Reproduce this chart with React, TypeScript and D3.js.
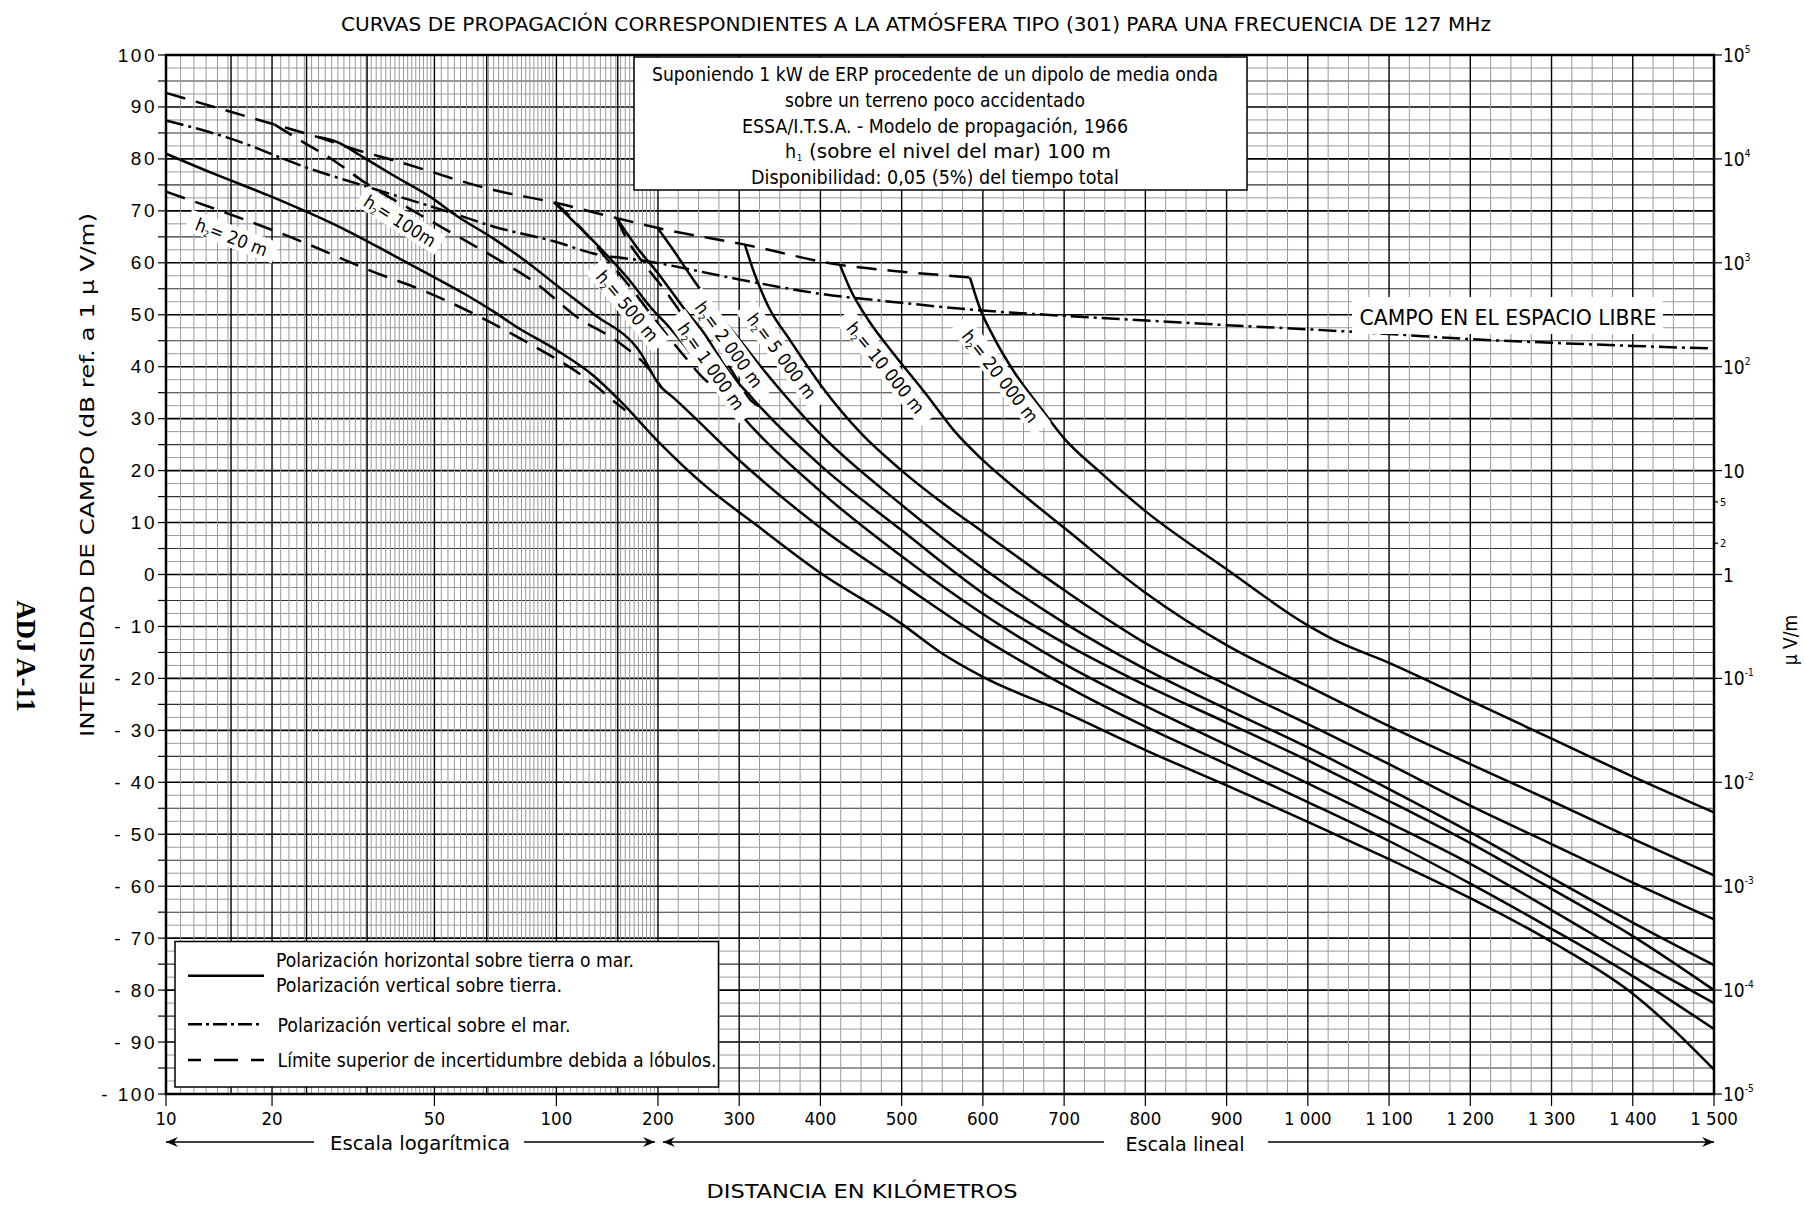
import React from 'react';
import * as d3 from 'd3';

type P = [number, number];

const W = 1805, H = 1207;
const PLOT_LEFT = 166, PLOT_RIGHT = 1714, PLOT_TOP = 55, PLOT_BOTTOM = 1094;

// x-axis: logarithmic 10-200 km, linear 200-1500 km
const logLabelsKm = [10, 20, 50, 100, 200];
const logLabelFrac = [0, 0.0685, 0.1734, 0.2522, 0.3178]; // fraction of plot width at each log label
const linLabelsKm = [300, 400, 500, 600, 700, 800, 900, 1000, 1100, 1200, 1300, 1400, 1500];
const yTickValues = d3.range(-100, 101, 10);

// right axis (µV/m) : value in dB, label
const uvTicks: { db: number; base: string; exp?: string; small?: boolean }[] = [
  { db: 100, base: '10', exp: '5' },
  { db: 80, base: '10', exp: '4' },
  { db: 60, base: '10', exp: '3' },
  { db: 40, base: '10', exp: '2' },
  { db: 20, base: '10' },
  { db: 13.98, base: '5', small: true },
  { db: 6.02, base: '2', small: true },
  { db: 0, base: '1' },
  { db: -20, base: '10', exp: '-1' },
  { db: -40, base: '10', exp: '-2' },
  { db: -60, base: '10', exp: '-3' },
  { db: -80, base: '10', exp: '-4' },
  { db: -100, base: '10', exp: '-5' },
];

// ---- curves [km, dB] ----
const upperEnvelope: P[] = [[10, 92.7], [20.3, 86.6], [25.9, 84.2], [32, 81.8], [39.5, 79.8], [70, 74], [100, 71.5], [151, 68.6], [200, 66.7], [307, 63.5], [424, 59.6], [500, 58.3], [584, 57.2]];
const freeSpace: P[] = [[10, 87.4], [14.8, 84.2], [25.2, 77.9], [34, 74.7], [55.6, 69.5], [69.8, 67], [100, 64], [128.6, 61.8], [186, 60.3], [300, 56.8], [397, 54.1], [500, 52.3], [600, 50.8], [700, 49.8], [800, 48.9], [900, 48], [1000, 47.2], [1100, 46.3], [1200, 45.3], [1300, 44.6], [1400, 44], [1500, 43.5]];

const h20: P[] = [[10, 81], [13.6, 77.2], [20, 72.7], [30, 66.5], [40, 61.3], [50, 57.2], [60, 53.8], [70, 50.6], [80, 47.6], [100, 43.2], [128.6, 38.3], [154, 33.5], [204, 25], [258, 17.1], [318, 9.9], [400, 0.3], [500, -9.5], [548, -15], [600, -19.7], [700, -26.5], [800, -33.8], [900, -40.6], [1000, -47.6], [1100, -54.8], [1200, -62.3], [1300, -70.7], [1400, -80.7], [1500, -95.3]];
const h100: P[] = [[25.9, 84.2], [29.2, 83.1], [32.7, 80.8], [39.5, 76.9], [49.5, 72.4], [55.6, 69.5], [69.8, 64.7], [84.4, 60.2], [100, 55.7], [128.6, 50.2], [177, 42.8], [202, 36.4], [220, 33.9], [300, 22], [400, 9], [500, -1.8], [600, -12.3], [700, -21.3], [800, -29.3], [900, -36.5], [1000, -43.8], [1100, -51.3], [1200, -59.5], [1300, -68.2], [1400, -77.3], [1500, -87.5]];
const h500: P[] = [[98.8, 71.6], [114, 67.6], [136.9, 62.4], [164.4, 56.7], [189.9, 51.5], [217.4, 47], [243.8, 41.9], [274.6, 36.1], [301, 31], [400, 16], [500, 3.5], [600, -7.6], [700, -17.2], [800, -25.3], [900, -32.8], [1000, -40.2], [1100, -47.8], [1200, -55.7], [1300, -64.6], [1400, -73.8], [1500, -82.5]];
const h1000: P[] = [[151, 68.6], [172.6, 63.1], [200, 58], [230.7, 51.5], [257, 46.4], [283.4, 39.9], [318.6, 33.5], [400, 21], [500, 8.5], [600, -3.6], [700, -13.2], [800, -21.3], [900, -28.5], [1000, -35.8], [1100, -43.6], [1200, -51.7], [1300, -60.5], [1400, -69.6], [1500, -80]];
const h2000: P[] = [[200, 66.6], [221.8, 61.8], [243.8, 56.7], [274.6, 50.2], [301, 45.1], [327.3, 39.9], [400, 27], [500, 13.4], [600, 1.2], [700, -9.3], [800, -18.2], [900, -25.9], [1000, -33.3], [1100, -41.3], [1200, -49.6], [1300, -58.4], [1400, -67], [1500, -75.2]];
const h5000: P[] = [[307, 63.5], [318.6, 58], [336.2, 51.5], [362.6, 45.1], [402.1, 36.1], [450.5, 27.1], [500, 20], [550, 13.8], [600, 8.2], [700, -3], [800, -13.2], [900, -21.2], [1000, -28.8], [1100, -36.5], [1200, -44.5], [1300, -51.9], [1400, -59.3], [1500, -66.4]];
const h10000: P[] = [[424, 59.6], [437.3, 54.7], [459.4, 48.9], [490.1, 42.5], [529.7, 34.8], [565, 27.6], [600, 22], [650, 15.3], [700, 9], [800, -3.5], [900, -13.6], [1000, -21.5], [1100, -29.2], [1200, -36.5], [1300, -43.6], [1400, -50.9], [1500, -57.9]];
const h20000: P[] = [[584, 57.2], [595.7, 51.5], [613.3, 45.7], [639.7, 38.7], [670.4, 32.2], [700, 26.2], [745, 19.6], [800, 12.2], [900, 1], [1000, -9.8], [1030, -12.4], [1100, -17], [1200, -24.3], [1300, -31.6], [1400, -38.9], [1500, -45.8]];

// dashed lobe limits
const lobe20: P[] = [[10, 73.7], [23.8, 64], [35.3, 58.3], [46.8, 54.7], [64.7, 49.6], [82.8, 45.1], [128.6, 36.7], [150.8, 32.9], [160, 31.6]];
const lobe100: P[] = [[20.3, 86.6], [23.3, 83.7], [28.2, 79.8], [34, 75.3], [42.6, 70.8], [53.6, 66.3], [69.8, 61.2], [89.3, 56], [114.8, 49.6], [154.3, 44.5], [189.4, 39.3], [205, 35.8]];
const lobe500: P[] = [[98.8, 71.6], [103.4, 70.5], [119.8, 66.3], [142.1, 60.5], [168.5, 54.7], [200, 48.3], [230, 42.5], [260, 37.2], [280, 35.2]];
const lobe1000: P[] = [[151, 68.6], [160.4, 65], [181.3, 59.9], [208.6, 54.7], [235, 48.9], [261.5, 43.8], [287.8, 39.9], [314.2, 33.5], [325, 32.3]];

const solidCurves = [h20, h100, h500, h1000, h2000, h5000, h10000, h20000];
const dashedCurves = [upperEnvelope, lobe20, lobe100, lobe500, lobe1000];

// h2 labels: text, anchor km, anchor dB, rotation
const h2Labels: { v: string; km: number; db: number; rot: number }[] = [
  { v: '20 m', km: 15.3, db: 64.7, rot: 21 },
  { v: '100m', km: 41, db: 67.8, rot: 32 },
  { v: '500 m', km: 161, db: 51.5, rot: 50 },
  { v: '1 000 m', km: 264, db: 39.9, rot: 55 },
  { v: '2 000 m', km: 286, db: 44.1, rot: 54 },
  { v: '5 000 m', km: 351, db: 41.9, rot: 53 },
  { v: '10 000 m', km: 479, db: 39.6, rot: 51 },
  { v: '20 000 m', km: 620, db: 38, rot: 52 },
];

const infoLines = [
  'Suponiendo 1 kW de ERP procedente de un dipolo de media onda',
  'sobre un terreno poco accidentado',
  'ESSA/I.T.S.A. - Modelo de propagación, 1966',
  '(sobre el nivel del mar) 100 m',
  'Disponibilidad: 0,05 (5%) del tiempo total',
];
const infoWidths = [566, 300, 386, 302, 368];

const legendTexts = [
  'Polarización horizontal sobre tierra o mar.',
  'Polarización vertical sobre tierra.',
  'Polarización vertical sobre el mar.',
  'Límite superior de incertidumbre debida a lóbulos.',
];
const legendWidths = [358, 286, 293, 439];

const FONT = "'DejaVu Sans Condensed', 'Liberation Sans Narrow', 'Liberation Sans', sans-serif";
const FONT_WIDE = "'Liberation Sans', Arial, sans-serif";

export default function App() {
  const plotW = PLOT_RIGHT - PLOT_LEFT;
  const xLog = d3.scaleLinear()
    .domain(logLabelsKm.map(Math.log10))
    .range(logLabelFrac.map(f => PLOT_LEFT + f * plotW));
  const xLin = d3.scaleLinear().domain([200, 1500]).range([xLog(Math.log10(200)), PLOT_RIGHT]);
  const x = (km: number) => (km <= 200 ? xLog(Math.log10(km)) : xLin(km));
  const y = d3.scaleLinear().domain([-100, 100]).range([PLOT_BOTTOM, PLOT_TOP]);

  const line = d3.line<P>().x(d => x(d[0])).y(d => y(d[1])).curve(d3.curveMonotoneX);

  // grid
  const hLines = d3.range(-100, 100.01, 2.5);
  const logMinor = [...d3.range(11, 20, 1), ...d3.range(21, 50, 1), ...d3.range(52, 100, 2), ...d3.range(105, 200, 5)];
  const logMajor = [15.3, 24.3, 34.2, 67.3, 152];
  const linMinor = d3.range(225, 1500, 25).filter(v => v % 100 !== 0);
  const linMajor = d3.range(300, 1500, 100);

  const xLabel = (v: number) => (v >= 1000 ? `${Math.floor(v / 1000)} ${String(v % 1000).padStart(3, '0')}` : String(v));
  const yLabel = (v: number) => (v < 0 ? `- ${-v}` : String(v));

  const xBottomTicks = [...logLabelsKm, ...linLabelsKm];

  return (
    <svg width={W} height={H} style={{ display: 'block', background: '#fff', position: 'absolute', left: 0, top: 0 }} fontFamily={FONT}>
      <rect x={0} y={0} width={W} height={H} fill="#fff" />
      {/* title */}
      <text x={916} y={31} fontSize={19.5} textAnchor="middle" textLength={1150} lengthAdjust="spacingAndGlyphs">
        CURVAS DE PROPAGACIÓN CORRESPONDIENTES A LA ATMÓSFERA TIPO (301) PARA UNA FRECUENCIA DE 127 MHz
      </text>

      {/* grid */}
      <g>
        {hLines.map(v => {
          const major = v % 10 === 0;
          const mid = !major && v % 5 === 0;
          return (
            <line key={'h' + v} x1={PLOT_LEFT} x2={PLOT_RIGHT} y1={y(v)} y2={y(v)}
              stroke={major ? '#000' : mid ? '#333' : '#999'} strokeWidth={major ? 1.6 : mid ? 1.1 : 1} />
          );
        })}
        {logMinor.map(v => (
          <line key={'lm' + v} x1={x(v)} x2={x(v)} y1={PLOT_TOP} y2={PLOT_BOTTOM} stroke="#999" strokeWidth={1} />
        ))}
        {linMinor.map(v => (
          <line key={'nm' + v} x1={x(v)} x2={x(v)} y1={PLOT_TOP} y2={PLOT_BOTTOM} stroke="#999" strokeWidth={1} />
        ))}
        {[...logMajor, 20, 50, 100, 200, ...linMajor].map(v => (
          <line key={'M' + v} x1={x(v)} x2={x(v)} y1={PLOT_TOP} y2={PLOT_BOTTOM} stroke="#000" strokeWidth={1.4} />
        ))}
      </g>

      {/* curves */}
      <g fill="none" stroke="#000" strokeLinejoin="round">
        {dashedCurves.map((c, i) => (
          <path key={'d' + i} d={line(c) || ''} strokeWidth={2.5} strokeDasharray="20 11" />
        ))}
        <path d={line(freeSpace) || ''} strokeWidth={2.5} strokeDasharray="18 5 3 5" />
        {solidCurves.map((c, i) => (
          <path key={'s' + i} d={line(c) || ''} strokeWidth={2.5} />
        ))}
      </g>

      {/* h2 labels */}
      {h2Labels.map(l => (
        <g key={l.v} transform={`translate(${x(l.km)},${y(l.db)}) rotate(${l.rot})`}>
          <rect x={-(l.v.length * 5.2 + 26)} y={-13} width={(l.v.length * 5.2 + 26) * 2} height={22} fill="#fff" />
          <text x={0} y={5} fontSize={18} textAnchor="middle">
            h<tspan fontSize={9} dy={3}>2</tspan><tspan dy={-3}>= {l.v}</tspan>
          </text>
        </g>
      ))}

      {/* free-space label */}
      <rect x={1352} y={297} width={311} height={37} fill="#fff" />
      <text x={1508} y={325} fontSize={20.5} textAnchor="middle" textLength={297} lengthAdjust="spacingAndGlyphs">CAMPO EN EL ESPACIO LIBRE</text>

      {/* info box */}
      <rect x={634} y={PLOT_TOP + 2} width={613} height={133} fill="#fff" stroke="#000" strokeWidth={1.5} />
      {infoLines.map((t, i) => {
        const yy = 81 + i * 25.8;
        if (i === 3) {
          return (
            <g key={i}>
              <text x={785} y={yy} fontSize={19.5}>h</text>
              <text x={797} y={yy + 3} fontSize={9}>1</text>
              <text x={809} y={yy} fontSize={19.5} textLength={infoWidths[i]} lengthAdjust="spacingAndGlyphs">{t}</text>
            </g>
          );
        }
        return <text key={i} x={935} y={yy} fontSize={19.5} textAnchor="middle" textLength={infoWidths[i]} lengthAdjust="spacingAndGlyphs">{t}</text>;
      })}

      {/* legend box */}
      <rect x={175} y={941.5} width={543.5} height={145.5} fill="#fff" stroke="#000" strokeWidth={1.5} />
      <line x1={188} x2={264} y1={975.7} y2={975.7} stroke="#000" strokeWidth={2.4} />
      <line x1={188} x2={260} y1={1024.3} y2={1024.3} stroke="#000" strokeWidth={2.4} strokeDasharray="14 4 3 4" />
      <line x1={188} x2={264} y1={1060} y2={1060} stroke="#000" strokeWidth={2.4} strokeDasharray="13 13 24 13" />
      {legendTexts.map((t, i) => (
        <text key={'lg' + i} x={i < 2 ? 276 : 277.5} y={[967, 992, 1032, 1067][i]} fontSize={19}
          textLength={legendWidths[i]} lengthAdjust="spacingAndGlyphs">{t}</text>
      ))}

      {/* frame */}
      <rect x={PLOT_LEFT} y={PLOT_TOP} width={plotW} height={PLOT_BOTTOM - PLOT_TOP} fill="none" stroke="#000" strokeWidth={2.5} />

      {/* left axis ticks and labels */}
      {d3.range(-100, 101, 5).map(v => (
        <line key={'lt' + v} x1={PLOT_LEFT - 8} x2={PLOT_LEFT} y1={y(v)} y2={y(v)} stroke="#000" strokeWidth={1.2} />
      ))}
      {yTickValues.map(v => (
        <text key={'yl' + v} x={157} y={y(v) + 6.5} fontSize={19} textAnchor="end" fontFamily={FONT_WIDE} letterSpacing={2.5}>{yLabel(v)}</text>
      ))}
      <text transform={`translate(94,475) rotate(-90)`} fontSize={19} textAnchor="middle" textLength={524} lengthAdjust="spacingAndGlyphs">
        INTENSIDAD DE CAMPO (dB ref. a 1 μ V/m)
      </text>
      <text transform={`translate(17,656) rotate(90)`} fontSize={27} fontWeight="bold" textAnchor="middle" fontFamily="'Liberation Serif', 'Times New Roman', serif">ADJ A-11</text>

      {/* right axis */}
      {uvTicks.map(t => (
        <g key={'r' + t.db}>
          <line x1={PLOT_RIGHT} x2={PLOT_RIGHT + (t.small ? 4 : 8)} y1={y(t.db)} y2={y(t.db)} stroke="#000" strokeWidth={1.2} />
          <text x={PLOT_RIGHT + (t.small ? 6 : 9)} y={y(t.db) + (t.small ? 4 : 7)} fontSize={t.small ? 11 : 19}>
            {t.base}
            {t.exp && <tspan fontSize={10} dy={-9}>{t.exp}</tspan>}
          </text>
        </g>
      ))}
      <text transform={`translate(1797,640) rotate(-90)`} fontSize={19} textAnchor="middle">μ V/m</text>

      {/* bottom axis */}
      {xBottomTicks.map(v => (
        <g key={'xt' + v}>
          <line x1={x(v)} x2={x(v)} y1={PLOT_BOTTOM} y2={PLOT_BOTTOM + 12} stroke="#000" strokeWidth={1.2} />
          <text x={x(v)} y={1125} fontSize={18.5} textAnchor="middle">{xLabel(v)}</text>
        </g>
      ))}

      {/* scale arrows */}
      <defs>
        <marker id="arrR" viewBox="0 0 12 10" refX={12} refY={5} markerWidth={12} markerHeight={10} markerUnits="userSpaceOnUse" orient="auto">
          <path d="M0,0 L12,5 L0,10 L4,5 Z" fill="#000" />
        </marker>
        <marker id="arrL" viewBox="0 0 12 10" refX={0} refY={5} markerWidth={12} markerHeight={10} markerUnits="userSpaceOnUse" orient="auto">
          <path d="M12,0 L0,5 L12,10 L8,5 Z" fill="#000" />
        </marker>
      </defs>
      <line x1={x(10)} x2={314} y1={1142} y2={1142} stroke="#000" strokeWidth={1.5} markerStart="url(#arrL)" />
      <line x1={524} x2={x(200) - 3} y1={1142} y2={1142} stroke="#000" strokeWidth={1.5} markerEnd="url(#arrR)" />
      <text x={420} y={1150} fontSize={20} textAnchor="middle" textLength={180} lengthAdjust="spacingAndGlyphs">Escala logarítmica</text>
      <line x1={x(200) + 5} x2={1104} y1={1142} y2={1142} stroke="#000" strokeWidth={1.5} markerStart="url(#arrL)" />
      <line x1={1268} x2={x(1500)} y1={1142} y2={1142} stroke="#000" strokeWidth={1.5} markerEnd="url(#arrR)" />
      <text x={1185} y={1151} fontSize={20} textAnchor="middle" textLength={119} lengthAdjust="spacingAndGlyphs">Escala lineal</text>
      <text x={862} y={1198} fontSize={19} textAnchor="middle" textLength={311} lengthAdjust="spacingAndGlyphs">DISTANCIA EN KILÓMETROS</text>
    </svg>
  );
}
